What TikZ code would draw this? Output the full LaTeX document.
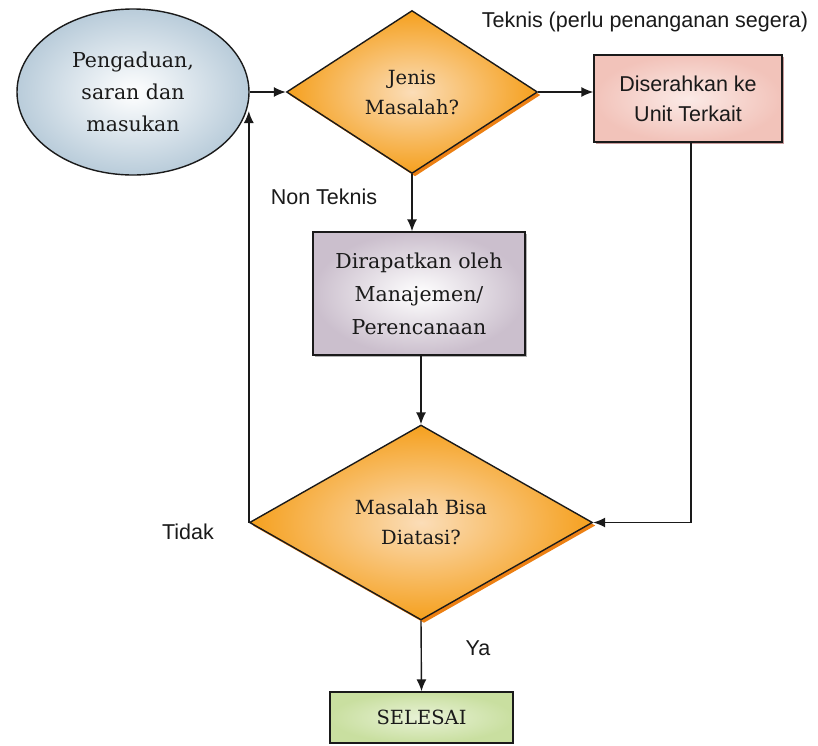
\documentclass[tikz,border=0pt]{standalone}
\usepackage{fontspec}
\setmainfont{DejaVu Serif}
\newfontfamily\arialf{Liberation Sans}
\usetikzlibrary{shapes.geometric,arrows.meta,shadows}
\definecolor{txt}{HTML}{1A1A1A}
\definecolor{ellout}{HTML}{B9CCDA}
\definecolor{orout}{HTML}{F5A01E}
\definecolor{orin}{HTML}{FBDDB8}
\definecolor{pinkout}{HTML}{F2C3BA}
\definecolor{pinkin}{HTML}{FBEAE6}
\definecolor{lavout}{HTML}{CBBFCD}
\definecolor{grout}{HTML}{C9DFA0}
\definecolor{grin}{HTML}{E8F2D6}
\tikzset{
  conn/.style={line width=1.4pt, draw=txt, -{Latex[length=12pt,width=10pt]}},
  lab/.style={font=\arialf\fontsize{21.5}{26}\selectfont, text=txt, inner sep=0},
  serift/.style={font=\fontsize{19.5}{30}\selectfont, text=txt, align=center},
  startnode/.style={ellipse, draw=txt, line width=1.4pt, minimum width=232pt, minimum height=166pt, inner sep=0,
     inner color=white, outer color=ellout,
     font=\fontsize{20.5}{32}\selectfont, text=txt, align=center},
  decision/.style={diamond, draw=txt, line width=1.4pt, inner sep=0, aspect=1.5,
     inner color=orin, outer color=orout,
     drop shadow={shadow xshift=3pt, shadow yshift=-3pt, fill=orange!70!brown, opacity=1},
     serift},
  boxa/.style={rectangle, draw=txt, line width=1.4pt, inner sep=0,
     inner color=pinkin, outer color=pinkout,
     drop shadow={shadow xshift=2pt, shadow yshift=-2pt, fill=red!30!gray!60, opacity=1},
     font=\arialf\fontsize{21.5}{30}\selectfont, text=txt, align=center},
  boxb/.style={rectangle, draw=txt, line width=1.4pt, inner sep=0,
     inner color=white, outer color=lavout,
     drop shadow={shadow xshift=2pt, shadow yshift=-2pt, fill=gray!60, opacity=1},
     font=\fontsize{20.5}{33}\selectfont, text=txt, align=center},
  boxc/.style={rectangle, draw=txt, line width=1.4pt, inner sep=0,
     inner color=grin, outer color=grout,
     font=\fontsize{19.5}{24}\selectfont, text=txt, align=center},
}
\begin{document}
\begin{tikzpicture}[x=1pt,y=-1pt]
\useasboundingbox[fill=white] (0,0) rectangle (818,745);
\node[startnode] (start) at (133,92) {Pengaduan,\\saran dan\\masukan};
\node[decision, minimum width=251pt, minimum height=163pt] (d1) at (412,92) {Jenis\\Masalah?};
\node[boxa, minimum width=188pt, minimum height=87pt] (unit) at (688,98.5) {Diserahkan ke\\Unit Terkait};
\node[boxb, minimum width=212pt, minimum height=123pt] (rapat) at (419,293.5) {Dirapatkan oleh\\Manajemen/\\Perencanaan};
\node[decision, minimum width=343pt, minimum height=195pt] (d2) at (421,522.5) {Masalah Bisa\\Diatasi?};
\node[boxc, minimum width=183pt, minimum height=51pt] (end) at (421.5,717.5) {SELESAI};

\node[lab] (lteknis) at (645,22) {Teknis (perlu penanganan segera)};
\node[lab] (lnon) at (324,197) {Non Teknis};
\node[lab] (ltidak) at (188,532) {Tidak};
\node[lab] (lya) at (478,648) {Ya};

\coordinate (back) at (252,111);

\draw[conn] (start.east) -- (d1.west);
\draw[conn] (d1.east) -- (d1.east -| unit.west);
\draw[conn] (d1.south) -- (d1.south |- rapat.north);
\draw[conn] (rapat.south -| d2.north) -- (d2.north);
\draw[conn] ([xshift=3pt]unit.south) |- (d2.east);
\draw[conn] (d2.west) -- (d2.west |- back);
\draw[conn] (d2.south) -- (end.north);
\end{tikzpicture}
\end{document}
